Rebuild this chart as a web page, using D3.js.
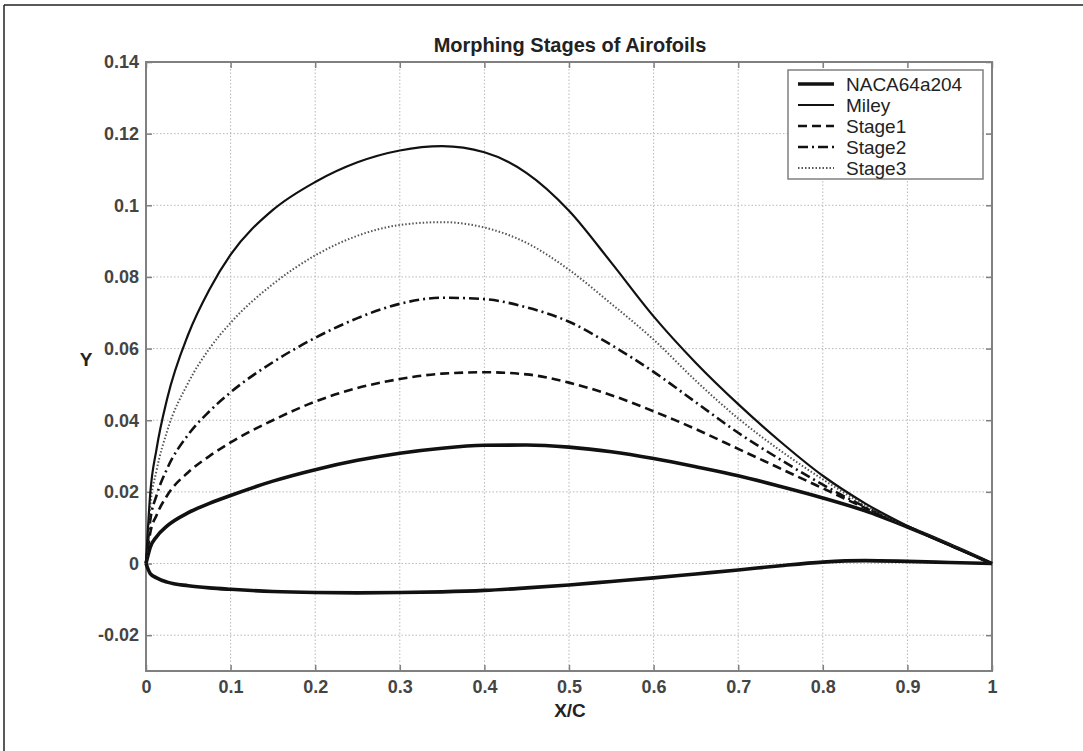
<!DOCTYPE html>
<html>
<head>
<meta charset="utf-8">
<script src="https://cdn.jsdelivr.net/npm/d3@7"></script>
<style>
  html, body { margin: 0; padding: 0; background: #fff; }
  svg { display: block; }
  text { font-family: "Liberation Sans", Arial, sans-serif; }
</style>
</head>
<body>
<svg id="chart" width="1083" height="751"></svg>
<script>
// Chord-wise stations (x/c) shared by every profile
const xc = [0, 0.005, 0.0125, 0.025, 0.05, 0.075, 0.1, 0.15, 0.2, 0.25, 0.3, 0.35, 0.4,
            0.45, 0.5, 0.55, 0.6, 0.65, 0.7, 0.75, 0.8, 0.85, 0.9, 0.95, 1.0];

// NACA64a204 upper and lower surfaces
const nacaUpper = [0, 0.0045, 0.0075, 0.0105, 0.0142, 0.0168, 0.0190, 0.0230, 0.0262, 0.0288, 0.0308,
                   0.0322, 0.0330, 0.0331, 0.0325, 0.0312, 0.0293, 0.0270, 0.0245, 0.0215, 0.0183,
                   0.0147, 0.0102, 0.0053, 0];
const nacaLower = [0, -0.0028, -0.0040, -0.0052, -0.0062, -0.0068, -0.0072, -0.0078, -0.0081, -0.0082,
                   -0.0081, -0.0079, -0.0075, -0.0068, -0.0060, -0.0050, -0.0040, -0.0029, -0.0018,
                   -0.0006, 0.0004, 0.0008, 0.0006, 0.0003, 0];

// Morphed upper surfaces
const miley  = [0, 0.0195, 0.0320, 0.0460, 0.0640, 0.0765, 0.0862, 0.0987, 0.1065, 0.1120, 0.1153,
                0.1165, 0.1148, 0.1090, 0.0985, 0.0840, 0.0690, 0.0560, 0.0445, 0.0340, 0.0245,
                0.0168, 0.0105, 0.0050, 0];
const stage1 = [0, 0.0085, 0.0135, 0.0190, 0.0255, 0.0300, 0.0338, 0.0400, 0.0452, 0.0490, 0.0515,
                0.0530, 0.0534, 0.0528, 0.0505, 0.0470, 0.0425, 0.0375, 0.0320, 0.0265, 0.0210,
                0.0155, 0.0103, 0.0052, 0];
const stage2 = [0, 0.0120, 0.0190, 0.0265, 0.0360, 0.0425, 0.0478, 0.0562, 0.0630, 0.0685, 0.0725,
                0.0742, 0.0738, 0.0715, 0.0675, 0.0610, 0.0535, 0.0450, 0.0365, 0.0290, 0.0220,
                0.0158, 0.0104, 0.0052, 0];
const stage3 = [0, 0.0160, 0.0260, 0.0370, 0.0505, 0.0600, 0.0672, 0.0780, 0.0860, 0.0915, 0.0945,
                0.0953, 0.0938, 0.0895, 0.0820, 0.0725, 0.0625, 0.0510, 0.0405, 0.0315, 0.0235,
                0.0163, 0.0104, 0.0052, 0];

const xTicks = [0, 0.1, 0.2, 0.3, 0.4, 0.5, 0.6, 0.7, 0.8, 0.9, 1];
const yTicks = [-0.02, 0, 0.02, 0.04, 0.06, 0.08, 0.1, 0.12, 0.14];

const legendNames = ["NACA64a204", "Miley", "Stage1", "Stage2", "Stage3"];

// Line styles per series
const styles = {
  "NACA64a204": { width: 3.6, dash: null, color: "#111" },
  "Miley":      { width: 2.2, dash: null, color: "#111" },
  "Stage1":     { width: 2.6, dash: "9,5", color: "#111" },
  "Stage2":     { width: 2.6, dash: "10,4,2,4", color: "#111" },
  "Stage3":     { width: 2.0, dash: "1.5,2", color: "#555" }
};

const svg = d3.select("#chart");

// Outer figure frame (top and left edges)
svg.append("line").attr("x1", 4).attr("y1", 5).attr("x2", 1083).attr("y2", 5)
  .attr("stroke", "#222").attr("stroke-width", 1.5);
svg.append("line").attr("x1", 4).attr("y1", 5).attr("x2", 4).attr("y2", 751)
  .attr("stroke", "#222").attr("stroke-width", 1.5);

const plot = { left: 146, right: 992, top: 62, bottom: 671 };
const x = d3.scaleLinear().domain([0, 1]).range([plot.left, plot.right]);
const y = d3.scaleLinear().domain([-0.03, 0.14]).range([plot.bottom, plot.top]);

// Dotted grid
const grid = svg.append("g").attr("stroke", "#b8b8b8").attr("stroke-width", 1)
  .attr("stroke-dasharray", "1.5,2");
grid.selectAll("line.gx").data(xTicks.filter(d => d > 0 && d < 1)).join("line")
  .attr("x1", d => x(d)).attr("x2", d => x(d)).attr("y1", plot.top).attr("y2", plot.bottom);
grid.selectAll("line.gy").data(yTicks.filter(d => d < 0.14)).join("line")
  .attr("y1", d => y(d)).attr("y2", d => y(d)).attr("x1", plot.left).attr("x2", plot.right);

// Axes with inward ticks on all four sides
const axisColor = "#808080";
function styleAxis(g) {
  g.select(".domain").remove();
  g.selectAll(".tick line").attr("stroke", axisColor).attr("stroke-width", 1.5);
  g.selectAll(".tick text").attr("fill", "#444").style("font-size", "18px")
    .style("font-weight", "bold")
    .style("font-family", "'Liberation Sans', Arial, sans-serif");
}
const fmt = d => (d === 0 ? "0" : String(+d.toFixed(2)));

svg.append("g").attr("transform", `translate(0,${plot.bottom})`)
  .call(d3.axisBottom(x).tickValues(xTicks).tickFormat(fmt).tickSizeInner(-6).tickPadding(9))
  .call(styleAxis);
svg.append("g").attr("transform", `translate(0,${plot.top})`)
  .call(d3.axisTop(x).tickValues(xTicks).tickFormat("").tickSizeInner(-6))
  .call(styleAxis);
svg.append("g").attr("transform", `translate(${plot.left},0)`)
  .call(d3.axisLeft(y).tickValues(yTicks).tickFormat(fmt).tickSizeInner(-6).tickPadding(7))
  .call(styleAxis);
svg.append("g").attr("transform", `translate(${plot.right},0)`)
  .call(d3.axisRight(y).tickValues(yTicks).tickFormat("").tickSizeInner(-6))
  .call(styleAxis);

// Plot box
svg.append("rect").attr("x", plot.left).attr("y", plot.top)
  .attr("width", plot.right - plot.left).attr("height", plot.bottom - plot.top)
  .attr("fill", "none").attr("stroke", axisColor).attr("stroke-width", 2);

// Profiles
const line = d3.line().x(d => x(d[0])).y(d => y(d[1])).curve(d3.curveMonotoneX);
const series = [
  { name: "NACA64a204", values: nacaUpper },
  { name: "NACA64a204", values: nacaLower },
  { name: "Stage1", values: stage1 },
  { name: "Stage2", values: stage2 },
  { name: "Stage3", values: stage3 },
  { name: "Miley", values: miley }
];
const lines = svg.append("g").attr("fill", "none");
series.forEach(s => {
  const st = styles[s.name];
  lines.append("path")
    .datum(xc.map((v, i) => [v, s.values[i]]))
    .attr("d", line)
    .attr("stroke", st.color)
    .attr("stroke-width", st.width)
    .attr("stroke-dasharray", st.dash)
    .attr("stroke-linejoin", "round");
});

// Legend
const lg = svg.append("g");
lg.append("rect").attr("x", 788).attr("y", 70).attr("width", 195).attr("height", 109)
  .attr("fill", "#fff").attr("stroke", axisColor).attr("stroke-width", 1.5);
legendNames.forEach((n, i) => {
  const yy = 84 + i * 21;
  const st = styles[n];
  lg.append("line").attr("x1", 798).attr("x2", 834).attr("y1", yy).attr("y2", yy)
    .attr("stroke", st.color).attr("stroke-width", st.width).attr("stroke-dasharray", st.dash);
  lg.append("text").attr("x", 846).attr("y", yy + 6.5).attr("fill", "#222")
    .style("font-size", "19px").text(n);
});

// Titles
svg.append("text").attr("x", 570).attr("y", 52).attr("text-anchor", "middle")
  .attr("fill", "#222").style("font-size", "20px").style("font-weight", "bold")
  .text("Morphing Stages of Airofoils");
svg.append("text").attr("x", 570).attr("y", 717).attr("text-anchor", "middle")
  .attr("fill", "#222").style("font-size", "19px").style("font-weight", "bold").text("X/C");
svg.append("text").attr("x", 86).attr("y", 366).attr("text-anchor", "middle")
  .attr("fill", "#222").style("font-size", "19px").style("font-weight", "bold").text("Y");
</script>
</body>
</html>
